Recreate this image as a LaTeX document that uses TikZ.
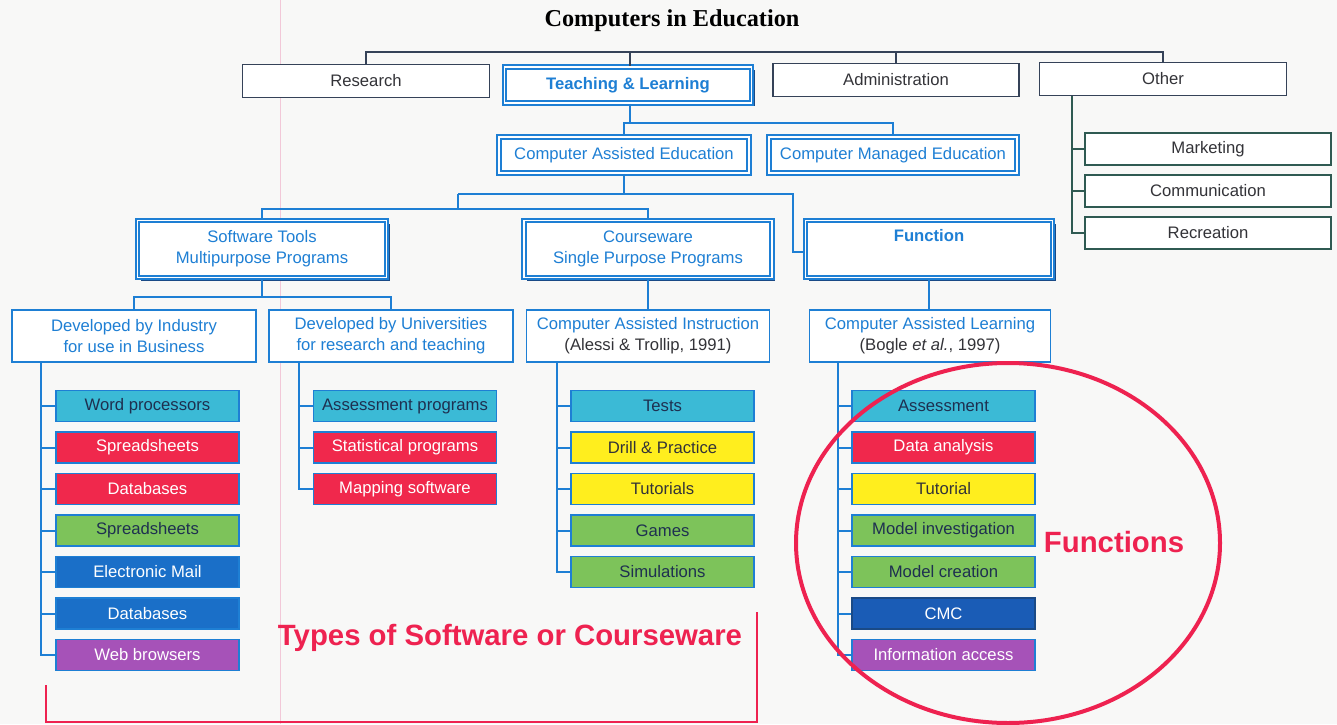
\documentclass[tikz,border=0pt]{standalone}
\usepackage{fontspec}
\setmainfont{Liberation Sans}
\newfontfamily\headfont{Liberation Serif}
\usetikzlibrary{shadows}
\newlength\px \setlength\px{0.75pt}
\definecolor{paper}{HTML}{F8F8F7}
\definecolor{slate}{HTML}{354258}
\definecolor{pine}{HTML}{2F5A52}
\definecolor{cablue}{HTML}{1E7FD4}
\definecolor{shadowblue}{HTML}{1A4A86}
\definecolor{inktext}{HTML}{333338}
\definecolor{navytext}{HTML}{1E3050}
\definecolor{cyanbox}{HTML}{3BBAD6}
\definecolor{redbox}{HTML}{F0284C}
\definecolor{yellowbox}{HTML}{FFEE1E}
\definecolor{greenbox}{HTML}{7DC35A}
\definecolor{bluebox}{HTML}{1A6FC8}
\definecolor{cmcbox}{HTML}{1A5CB6}
\definecolor{purplebox}{HTML}{A652B8}
\definecolor{notered}{HTML}{EE2250}
\definecolor{marginpink}{HTML}{F2C8D8}

\tikzset{
  txt/.style={font=\fontsize{12.5}{15.75}\selectfont},
  plainbox/.style={txt, draw=slate, line width=1.5\px, fill=white, text=inktext,
    minimum width=247\px, minimum height=33\px, inner sep=0pt},
  otherbox/.style={plainbox, draw=pine, minimum width=246\px, minimum height=32\px},
  headbox/.style={txt, draw=cablue, line width=1.9\px, double=white, double distance=1.4\px,
    fill=white, text=cablue, inner sep=0pt, align=center,
    drop shadow={shadow xshift=3\px, shadow yshift=-3\px, fill=shadowblue, opacity=1}},
  subbox/.style={txt, draw=cablue, line width=1.5\px, fill=white, text=cablue,
    minimum width=244\px, minimum height=52\px, inner sep=0pt, align=center},
  leaf/.style={txt, draw=cablue, line width=1.5\px, minimum width=183\px,
    minimum height=31\px, inner sep=0pt},
  conn/.style={draw=cablue, line width=2\px},
  topconn/.style={draw=slate, line width=1.8\px},
  othconn/.style={draw=pine, line width=1.8\px},
  notemark/.style={draw=notered, line width=2.2\px},
  notetext/.style={text=notered, font=\fontsize{22}{26}\selectfont\bfseries}
}

\begin{document}
\begin{tikzpicture}[x=0.75pt, y=-0.75pt]
  % page
  \fill[paper] (0,0) rectangle (1337,724);
  \useasboundingbox (0,0) rectangle (1337,724);
  \draw[marginpink, line width=1\px] (280,0) -- (280,724);

  % title
  \node[text=black, font=\headfont\fontsize{18.2}{22}\selectfont\bfseries] (title) at (672,21) {Computers in Education};

  % first level
  \node[plainbox] (research) at (366,81) {Research};
  \node[headbox, minimum width=247\px, minimum height=36\px, font=\fontsize{12.5}{15}\selectfont\bfseries] (teach) at (628,85) {Teaching \& Learning};
  \node[plainbox, minimum width=246\px] (admin) at (896,80) {Administration};
  \node[plainbox] (other) at (1163,79) {Other};

  \coordinate (topbar) at (0,52);
  \draw[topconn] (research.north) |- (topbar -| other.north) -- (other.north);
  \draw[topconn] (teach.north -| 630,0) -- (topbar -| 630,0);
  \draw[topconn] (admin.north) -- (admin.north |- topbar);

  % the "Other" branch
  \node[otherbox] (marketing) at (1208,149) {Marketing};
  \node[otherbox] (communication) at (1208,191) {Communication};
  \node[otherbox] (recreation) at (1208,233) {Recreation};
  \coordinate (otherbus) at (1072,96);
  \draw[othconn] (otherbus) |- (recreation.west);
  \draw[othconn] (marketing.west) -- (marketing.west -| otherbus);
  \draw[othconn] (communication.west) -- (communication.west -| otherbus);

  % second level
  \node[headbox, minimum width=250\px, minimum height=36\px] (cae) at (624,155) {Computer Assisted Education};
  \node[headbox, minimum width=248\px, minimum height=36\px] (cme) at (893,155) {Computer Managed Education};
  \coordinate (bartwo) at (0,123);
  \draw[conn] (teach.south -| 630,0) -- (bartwo -| 630,0);
  \draw[conn] (cae.north) |- (bartwo -| cme.north) -- (cme.north);

  % third level
  \node[headbox, minimum width=249\px, minimum height=57\px] (software) at (262,249) {Software Tools\\Multipurpose Programs};
  \node[headbox, minimum width=248\px, minimum height=57\px] (courseware) at (648,249) {Courseware\\Single Purpose Programs};
  \node[headbox, minimum width=247\px, minimum height=57\px] (function) at (929,249) {\textbf{Function}\\\strut};
  \coordinate (split) at (458,194);
  \coordinate (fnbend) at (793,194);
  \coordinate (barthree) at (0,209);
  \draw[conn] (cae.south) -- (cae.south |- split);
  \draw[conn] (split) -- (fnbend) |- ([yshift=-3\px]function.west);
  \draw[conn] (split) -- (split |- barthree);
  \draw[conn] (software.north) |- (barthree -| courseware.north) -- (courseware.north);

  % fourth level
  \node[subbox] (industry) at (134,336) {Developed by Industry\\for use in Business};
  \node[subbox] (universities) at (391,336) {Developed by Universities\\for research and teaching};
  \node[subbox, minimum width=243\px] (cai) at (648,336) {Computer Assisted Instruction\\\textcolor{inktext}{(Alessi \& Trollip, 1991)}};
  \node[subbox, minimum width=241\px] (cal) at (930,336) {Computer Assisted Learning\\\textcolor{inktext}{(Bogle \textit{et al.}, 1997)}};
  \coordinate (barfour) at (0,297);
  \draw[conn] (software.south) -- (software.south |- barfour);
  \draw[conn] (industry.north) |- (barfour -| universities.north) -- (universities.north);
  \draw[conn] (courseware.south) -- (cai.north);
  \draw[conn] (function.south) -- (function.south |- cal.north);

  % leaves: programs developed by industry
  \foreach \t/\c/\f [count=\i] in {
      Word processors/cyanbox/navytext, Spreadsheets/redbox/white,
      Databases/redbox/white, Spreadsheets/greenbox/navytext,
      Electronic Mail/bluebox/white, Databases/bluebox/white,
      Web browsers/purplebox/white}
    \node[leaf, fill=\c, text=\f] (ind\i) at (147.5,{406+(\i-1)*41.5}) {\t};
  \coordinate (busind) at (41,362);
  \draw[conn] (busind) |- (ind7.west);
  \foreach \i in {1,...,6} \draw[conn] (ind\i.west) -- (ind\i.west -| busind);

  % leaves: programs developed by universities
  \foreach \t/\c/\f [count=\i] in {
      Assessment programs/cyanbox/navytext, Statistical programs/redbox/white,
      Mapping software/redbox/white}
    \node[leaf, fill=\c, text=\f] (uni\i) at (405,{406+(\i-1)*41.5}) {\t};
  \coordinate (busuni) at (299,362);
  \draw[conn] (busuni) |- (uni3.west);
  \foreach \i in {1,2} \draw[conn] (uni\i.west) -- (uni\i.west -| busuni);

  % leaves: computer assisted instruction
  \foreach \t/\c/\f [count=\i] in {
      Tests/cyanbox/navytext, Drill \& Practice/yellowbox/inktext,
      Tutorials/yellowbox/inktext, Games/greenbox/navytext,
      Simulations/greenbox/navytext}
    \node[leaf, fill=\c, text=\f] (ins\i) at (662.5,{406+(\i-1)*41.5}) {\t};
  \coordinate (busins) at (557,362);
  \draw[conn] (busins) |- (ins5.west);
  \foreach \i in {1,...,4} \draw[conn] (ins\i.west) -- (ins\i.west -| busins);

  % leaves: computer assisted learning
  \foreach \t/\c/\f/\d [count=\i] in {
      Assessment/cyanbox/navytext/cablue, Data analysis/redbox/white/cablue,
      Tutorial/yellowbox/inktext/cablue, Model investigation/greenbox/navytext/cablue,
      Model creation/greenbox/navytext/cablue, CMC/cmcbox/white/shadowblue,
      Information access/purplebox/white/cablue}
    \node[leaf, fill=\c, text=\f, draw=\d] (lrn\i) at (943.5,{406+(\i-1)*41.5}) {\t};
  \coordinate (buslrn) at (838,362);
  \draw[conn] (buslrn) |- (lrn7.west);
  \foreach \i in {1,...,6} \draw[conn] (lrn\i.west) -- (lrn\i.west -| buslrn);

  % annotations
  \coordinate (brA) at (46,685);
  \coordinate (brB) at (46,722);
  \coordinate (brC) at (757,722);
  \coordinate (brD) at (757,612);
  \draw[notemark] (brA) -- (brB) -- (brC) -- (brD);
  \node[notetext] (typesnote) at (510,638) {Types of Software or Courseware};
  \draw[draw=notered, line width=4\px] (1008,543) ellipse [x radius=212\px, y radius=180\px];
  \node[notetext] (fnnote) at (1114,542) {Functions};
\end{tikzpicture}
\end{document}
